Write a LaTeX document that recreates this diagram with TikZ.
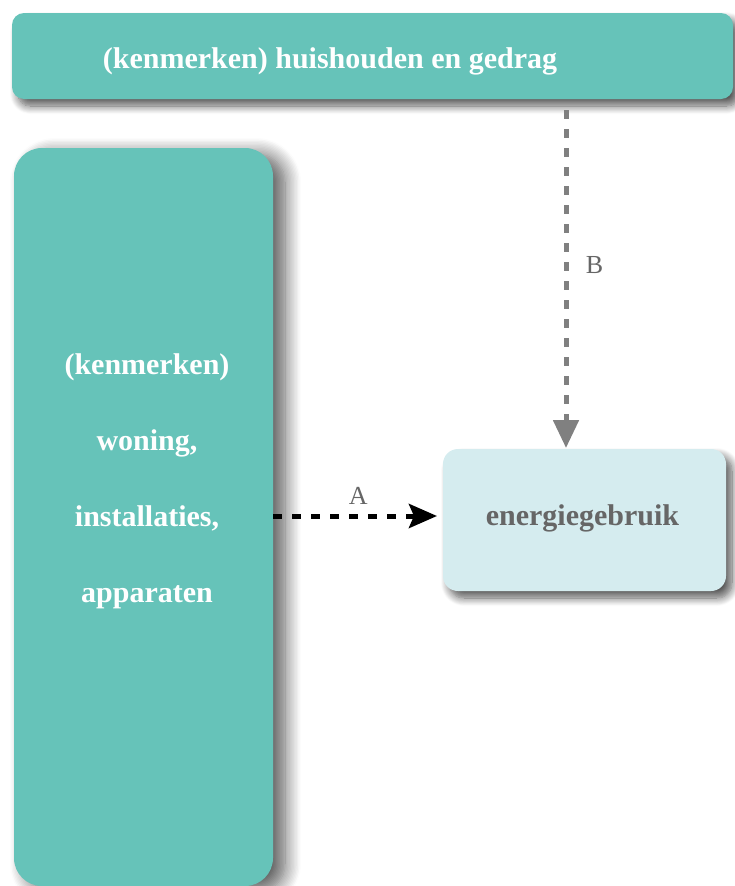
\documentclass[tikz,border=0pt]{standalone}
\usepackage{fontspec}
\setmainfont{Liberation Serif}
\usetikzlibrary{shadows.blur,arrows.meta}
\definecolor{teal1}{HTML}{66C3B9}
\definecolor{lightb}{HTML}{D5ECEF}
\definecolor{txtgray}{HTML}{666666}
\definecolor{arrgray}{HTML}{808080}
\tikzset{
  boxshadow/.style={blur shadow={shadow xshift=6pt,shadow yshift=-7pt,shadow blur steps=10,shadow blur radius=8pt,shadow opacity=65}},
  bigshadow/.style={blur shadow={shadow xshift=12pt,shadow yshift=-6pt,shadow blur steps=12,shadow blur radius=16pt,shadow opacity=65}},
  tealbox/.style={fill=teal1,draw=none,inner sep=0pt},
  energybox/.style={fill=lightb,draw=none,boxshadow,inner sep=0pt},
  wtxt/.style={font=\bfseries\fontsize{30}{36}\selectfont,text=white,anchor=base},
  gtxt/.style={font=\bfseries\fontsize{30}{36}\selectfont,text=txtgray,anchor=base},
  lbl/.style={font=\fontsize{26}{30}\selectfont,text=black!60},
  dashline/.style={line width=5pt,dash pattern=on 9pt off 10pt},
}
\begin{document}
\begin{tikzpicture}[x=1pt,y=-1pt]
\useasboundingbox (0,0) rectangle (734,886);
\node[tealbox,boxshadow,rounded corners=12pt,minimum width=721pt,minimum height=86pt] (top) at (372.5,56) {};
\node[wtxt] (toptxt) at (330,68) {(kenmerken) huishouden en gedrag};
\node[tealbox,bigshadow,rounded corners=28pt,minimum width=259pt,minimum height=738pt] (left) at (143.5,517) {};
\node[wtxt] (l1) at (147,374) {(kenmerken)};
\node[wtxt] (l2) at (147,450) {woning,};
\node[wtxt] (l3) at (147,526) {installaties,};
\node[wtxt] (l4) at (147,602) {apparaten};
\node[energybox,rounded corners=15pt,minimum width=283pt,minimum height=142pt] (en) at (584.5,520) {};
\node[gtxt] (entxt) at (582.5,525) {energiegebruik};
\coordinate (aS) at (273,516);
\coordinate (aE) at (437,516);
\coordinate (bS) at (566,110);
\coordinate (bE) at (566,448);
\draw[black,dashline,-{Stealth[length=28pt,width=24pt,inset=5pt]}] (aS) -- (aE) node[pos=0.52,above=6pt,lbl] (A) {A};
\draw[arrgray,dashline,-{Triangle[length=28pt,width=25pt]}] (bS) -- (bE) node[pos=0.46,right=14pt,lbl] (B) {B};
\end{tikzpicture}
\end{document}
